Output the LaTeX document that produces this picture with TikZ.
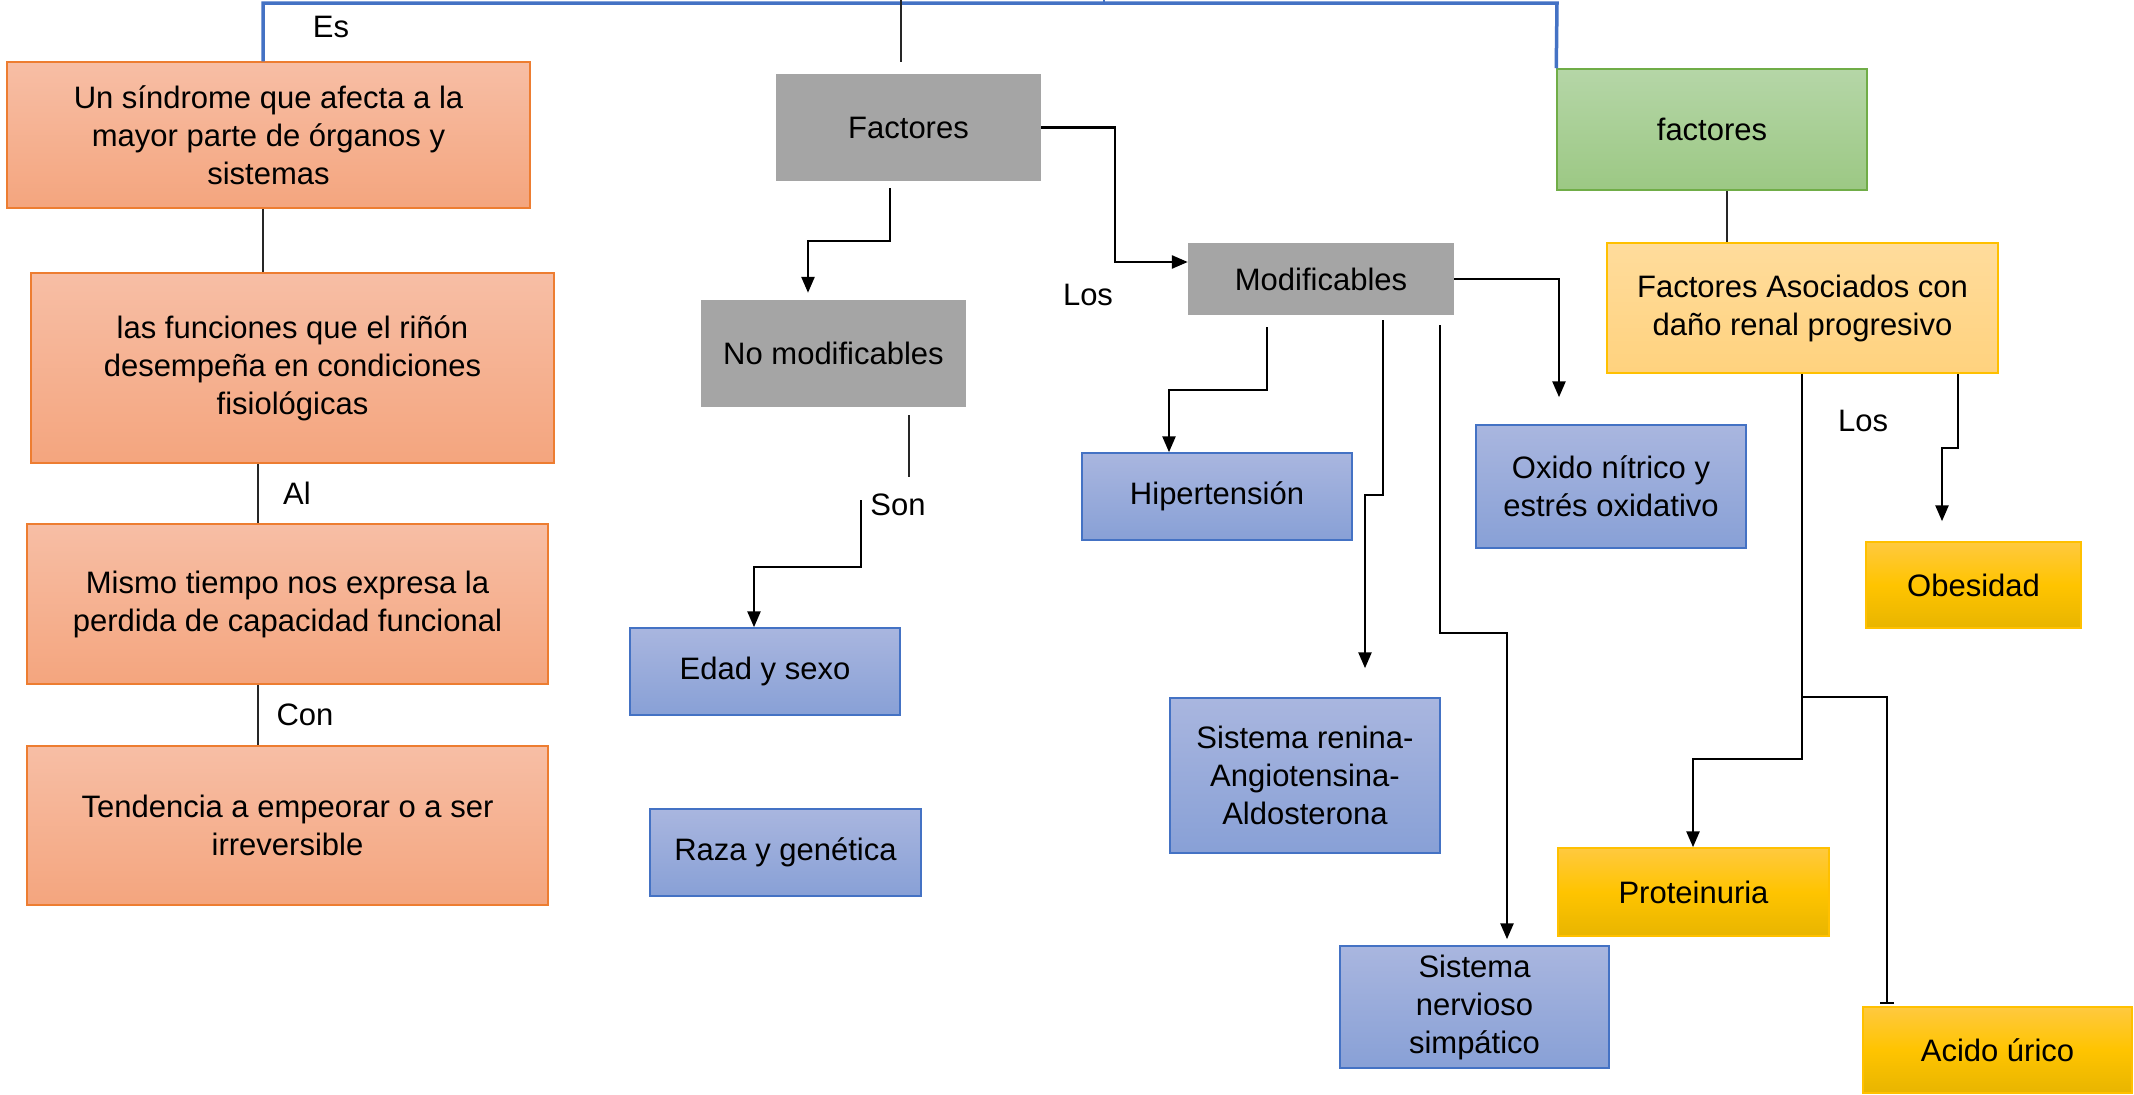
\documentclass[tikz,border=0pt]{standalone}
\usepackage{fontspec}
\setmainfont{Liberation Sans}
\usetikzlibrary{arrows.meta,shadings,calc}
\definecolor{orTop}{HTML}{F7BEA5}
\definecolor{orBot}{HTML}{F4A57E}
\definecolor{orLine}{HTML}{ED7D31}
\definecolor{grayF}{HTML}{A5A5A5}
\definecolor{blTop}{HTML}{A9B6DF}
\definecolor{blBot}{HTML}{88A0D6}
\definecolor{blLine}{HTML}{4472C4}
\definecolor{grTop}{HTML}{B5D6A7}
\definecolor{grBot}{HTML}{9CC884}
\definecolor{grLine}{HTML}{70AD47}
\definecolor{ylTop}{HTML}{FFDC9C}
\definecolor{ylBot}{HTML}{FFD27E}
\definecolor{ylLine}{HTML}{FFC000}
\definecolor{gdTop}{HTML}{FFC93F}
\definecolor{gdMid}{HTML}{FFC400}
\definecolor{gdBot}{HTML}{E8B500}
\definecolor{lineBlue}{HTML}{4472C4}
\tikzset{
  basebox/.style={inner sep=0pt, align=center, font=\fontsize{31}{38}\selectfont},
  orbox/.style={basebox, draw=orLine, line width=1.5pt, top color=orTop, bottom color=orBot},
  graybox/.style={basebox, fill=grayF},
  blbox/.style={basebox, draw=blLine, line width=1.5pt, top color=blTop, bottom color=blBot},
  grbox/.style={basebox, draw=grLine, line width=1.5pt, top color=grTop, bottom color=grBot},
  ylbox/.style={basebox, draw=ylLine, line width=1.5pt, top color=ylTop, bottom color=ylBot},
  gdbox/.style={basebox, draw=ylLine, line width=1.5pt, top color=gdTop, bottom color=gdBot, middle color=gdMid},
  lbl/.style={inner sep=0pt, font=\fontsize{31}{38}\selectfont},
  thinln/.style={draw=black!85, line width=1.2pt},
  conn/.style={draw=black, line width=2.6pt},
  arr/.style={conn, -{Triangle[length=16pt,width=13pt]}},
  blueln/.style={draw=lineBlue, line width=3.5pt}
}
\begin{document}
\begin{tikzpicture}[x=1pt,y=-1pt]
\useasboundingbox (0,0) rectangle (2134,1095);
% left column
\node[orbox, minimum width=523pt, minimum height=146pt] (b1) at (268.5,135) {Un síndrome que afecta a la\\mayor parte de órganos y\\sistemas};
\node[orbox, minimum width=523pt, minimum height=190pt] (b2) at (292.5,368) {las funciones que el riñón\\desempeña en condiciones\\fisiológicas};
\node[orbox, minimum width=521pt, minimum height=160pt] (b3) at (287.5,604) {Mismo tiempo nos expresa la\\perdida de capacidad funcional};
\node[orbox, minimum width=521pt, minimum height=159pt] (b4) at (287.5,825.5) {Tendencia a empeorar o a ser\\irreversible};
% middle
\node[graybox, minimum width=265pt, minimum height=107pt] (fact) at (908.5,127.5) {Factores};
\node[graybox, minimum width=265pt, minimum height=107pt] (nomod) at (833.5,353.5) {No modificables};
\node[blbox, minimum width=270pt, minimum height=87pt] (edad) at (765,671.5) {Edad y sexo};
\node[blbox, minimum width=271pt, minimum height=87pt] (raza) at (785.5,852.5) {Raza y genética};
\node[graybox, minimum width=266pt, minimum height=72pt] (modif) at (1321,279) {Modificables};
\node[blbox, minimum width=270pt, minimum height=87pt] (hiper) at (1217,496.5) {Hipertensión};
\node[blbox, minimum width=270pt, minimum height=123pt] (oxido) at (1611,486.5) {Oxido nítrico y\\estrés oxidativo};
\node[blbox, minimum width=270pt, minimum height=155pt] (renina) at (1305,775.5) {Sistema renina-\\Angiotensina-\\Aldosterona};
\node[blbox, minimum width=269pt, minimum height=122pt] (nerv) at (1474.5,1007) {Sistema\\nervioso\\simpático};
% right
\node[grbox, minimum width=310pt, minimum height=121pt] (green) at (1712,129.5) {factores};
\node[ylbox, minimum width=391pt, minimum height=130pt] (asoc) at (1802.5,308) {Factores Asociados con\\daño renal progresivo};
\node[gdbox, minimum width=215pt, minimum height=86pt] (obes) at (1973.5,585) {Obesidad};
\node[gdbox, minimum width=271pt, minimum height=88pt] (prot) at (1693.5,892) {Proteinuria};
\node[gdbox, minimum width=269pt, minimum height=86pt] (acido) at (1997.5,1050) {Acido úrico};
% labels
\node[lbl] (les) at (331,27) {Es};
\node[lbl] (lal) at (297,493) {Al};
\node[lbl] (lcon) at (305,715) {Con};
\node[lbl] (llos1) at (1088,295) {Los};
\node[lbl] (lson) at (898,505) {Son};
\node[lbl] (llos2) at (1863,421) {Los};
% coordinates
\coordinate (tl) at (263,3);
\coordinate (tr) at (1557,3);
\coordinate (tick) at (1104,0);
\coordinate (topc) at (901,0);
\coordinate (xa) at (263,0);
\coordinate (xb) at (258,0);
\coordinate (f1) at (890,241);
\coordinate (f2) at (808,241);
\coordinate (f4) at (1115,262);
\coordinate (m1) at (1559,279);
\coordinate (m2) at (1267,390);
\coordinate (m3) at (1169,390);
\coordinate (m4) at (1383,495);
\coordinate (m5) at (1365,495);
\coordinate (m6) at (1440,633);
\coordinate (m7) at (1507,633);
\coordinate (n1) at (909,477);
\coordinate (s1) at (861,500);
\coordinate (s2) at (861,567);
\coordinate (s3) at (754,567);
\coordinate (g1) at (1727,0);
\coordinate (a1) at (1958,448);
\coordinate (a2) at (1942,448);
\coordinate (a3) at (1802,759);
\coordinate (a4) at (1693,759);
\coordinate (a5) at (1802,697);
\coordinate (a6) at (1887,697);
% blue top connector
\draw[blueln] (tl |- b1.north) -- (tl) -- (tr) -- (green.north west);
\draw[draw=lineBlue, line width=1.5pt] (tick) -- ++(0,3);
\draw[thinln, shorten >=12pt] (topc) -- (fact.north -| topc);
% left column connectors
\draw[thinln] (b1.south -| xa) -- (b2.north -| xa);
\draw[thinln] (b2.south -| xb) -- (b3.north -| xb);
\draw[thinln] (b3.south -| xb) -- (b4.north -| xb);
% factores
\draw[arr, shorten <=7pt, shorten >=7pt] (fact.south -| f1) -- (f1) -- (f2) -- (nomod.north -| f2);
\draw[arr] (fact.east) -| (f4) -- (modif.west |- f4);
\draw[arr, shorten >=27pt] (modif.east) -| (oxido.north -| m1);
\draw[arr, shorten <=12pt] (modif.south -| m2) -- (m2) -- (m3) -- (hiper.north -| m3);
\draw[arr, shorten <=5pt, shorten >=29pt] (modif.south -| m4) -- (m4) -- (m5) -- (renina.north -| m5);
\draw[arr, shorten <=10pt, shorten >=6pt] (modif.south -| m6) -- (m6) -- (m7) -- (nerv.north -| m7);
% no modificables
\draw[thinln, shorten <=8pt] (nomod.south -| n1) -- (n1);
\draw[arr] (s1) -- (s2) -- (s3) -- (edad.north -| s3);
% right
\draw[thinln] (green.south -| g1) -- (asoc.north -| g1);
\draw[arr, shorten >=20pt] (asoc.south -| a1) -- (a1) -- (a2) -- (obes.north -| a2);
\draw[arr] (asoc.south -| a3) -- (a3) -- (a4) -- (prot.north -| a4);
\draw[conn, -{Bar[width=14pt]}, shorten >=2pt] (a5) -- (a6) -- (acido.north -| a6);
\end{tikzpicture}
\end{document}
